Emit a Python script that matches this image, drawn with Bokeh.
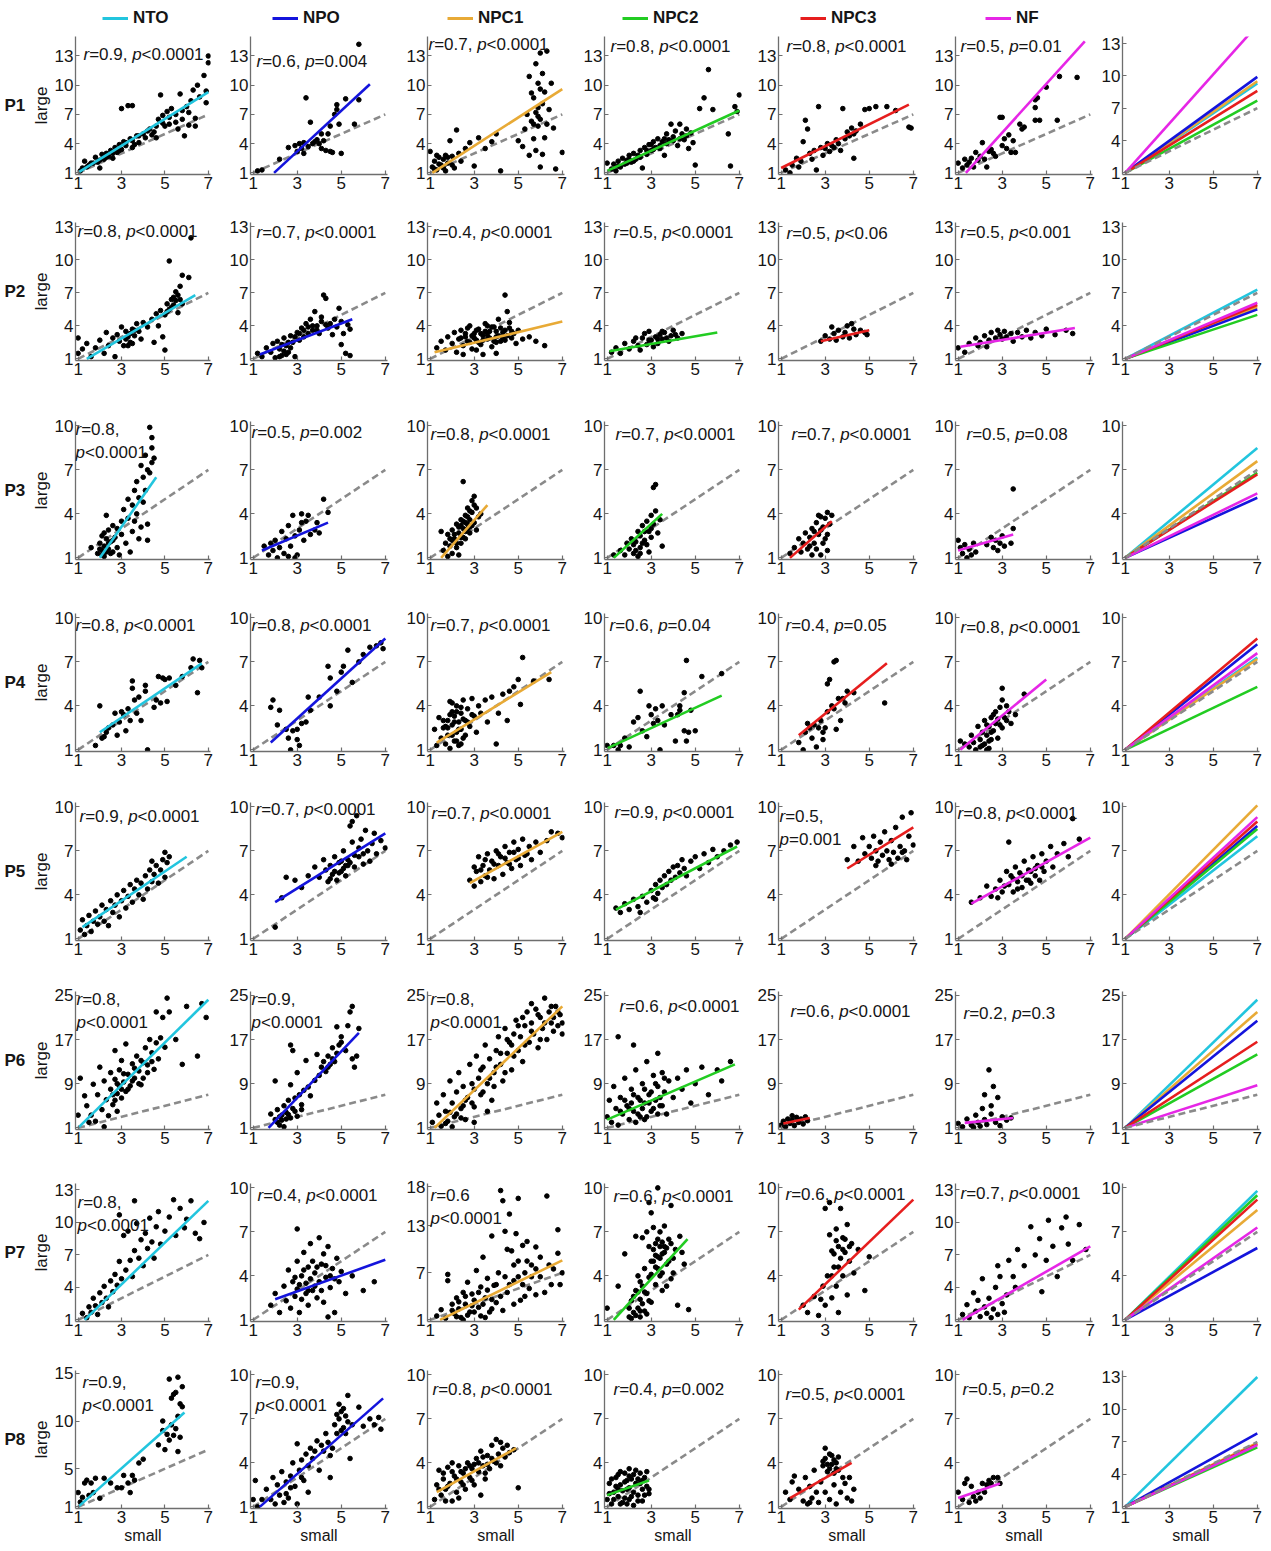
from bokeh.plotting import figure
from bokeh.layouts import gridplot
from bokeh.models import Range1d, FixedTicker, Label, Legend, LegendItem
from bokeh.embed import file_html
from bokeh.resources import INLINE

# ---------------- data ----------------
groups = ["NTO", "NPO", "NPC1", "NPC2", "NPC3", "NF"]
participants = ["P1", "P2", "P3", "P4", "P5", "P6", "P7", "P8"]
x_ticks = [1, 3, 5, 7]
identity = [1, 7]

# scatter points (small, large) per participant and group
p1_nto = [(1.1,1.2),(1.2,1.5),(1.3,2.2),(1.5,1.8),(1.6,2.0),(1.8,2.6),(1.9,2.1),(2.0,1.5),(2.1,2.9),(2.2,2.4),(2.3,3.0),(2.4,2.7),(2.5,3.3),(2.6,2.5),(2.7,3.6),(2.8,3.1),(2.9,3.9),(3.0,3.4),(3.0,7.6),(3.1,4.2),(3.3,7.9),(3.5,7.9),(3.2,3.8),(3.4,4.5),(3.5,3.6),(3.7,4.8),(3.8,4.1),(4.0,5.0),(4.1,4.6),(4.3,5.5),(4.5,5.2),(4.6,4.6),(4.7,6.5),(4.8,9.0),(4.9,6.9),(5.0,5.8),(5.1,7.3),(5.2,6.0),(5.3,7.6),(5.5,7.0),(5.6,5.5),(5.7,9.1),(5.8,6.5),(5.9,4.8),(6.0,7.8),(6.1,5.9),(6.2,8.4),(6.3,9.5),(6.4,6.6),(6.5,10.0),(6.6,8.8),(6.8,11.0),(6.9,8.2),(6.9,9.4),(7.0,12.3),(7.0,13.0),(6.4,5.8),
          (1.4,1.6),(1.7,2.0),(2.0,2.3),(2.3,2.6),(2.6,3.0),(2.9,3.3),(3.2,4.1),(3.5,4.3),(3.8,4.8),(4.2,5.3),(4.6,5.8),(4.9,6.1),(5.2,6.7),(5.5,6.2),(5.8,7.4),(6.1,7.2),(4.4,4.9),(3.6,3.9)]
p1_npo = [(1.2,1.2),(1.4,1.3),(2.2,2.4),(2.6,3.6),(3.0,3.2),(3.1,4.0),(3.2,3.5),(3.3,4.1),(3.4,8.7),(3.5,3.7),(3.6,6.2),(3.7,4.0),(3.8,4.2),(3.9,4.4),(4.0,4.0),(4.1,3.5),(4.1,5.0),(4.2,4.3),(4.3,3.3),(4.4,5.0),(4.5,3.2),(4.5,5.8),(4.6,3.1),(4.7,7.0),(4.8,7.5),(4.8,8.0),(4.9,6.0),(5.0,3.0),(5.2,8.6),(5.6,6.0),(5.8,8.5),(5.8,14.2),(2.9,3.8),(3.3,3.0)]
p1_npc1 = [(1.0,3.2),(1.1,1.6),(1.2,2.2),(1.3,1.3),(1.4,2.6),(1.5,1.8),(1.6,2.4),(1.7,1.2),(1.8,2.0),(1.9,4.3),(2.0,2.7),(2.1,1.5),(2.2,5.4),(2.3,3.0),(2.4,2.2),(2.6,3.5),(2.8,4.1),(3.0,1.7),(3.2,4.6),(3.5,3.5),(3.8,4.2),(4.0,5.0),(4.2,1.2),(5.0,4.3),(5.2,3.7),(5.3,5.5),(5.4,7.0),(5.5,10.9),(5.5,2.8),(5.6,6.3),(5.7,8.7),(5.7,4.5),(5.8,12.2),(5.8,3.3),(5.8,7.2),(5.9,10.2),(5.9,5.8),(6.0,13.3),(6.0,6.5),(6.0,1.6),(6.1,8.1),(6.1,11.2),(6.2,4.6),(6.2,9.3),(6.3,6.0),(6.3,13.5),(6.5,10.2),(6.6,5.6),(6.7,1.4),(7.0,3.1),(6.1,2.9),(5.6,9.2),(5.9,7.7),(6.4,7.5),
           (1.2,1.4),(1.4,1.9),(1.6,1.5),(1.8,2.6),(2.0,1.8),(1.3,2.8),(1.7,2.8),(5.9,6.8),(6.0,9.6),(5.7,6.0)]
p1_npc2 = [(1.0,2.0),(1.2,1.4),(1.3,1.9),(1.4,1.2),(1.5,2.2),(1.6,1.6),(1.7,2.5),(1.8,1.9),(1.9,2.3),(2.0,2.8),(2.1,2.1),(2.2,3.0),(2.3,2.4),(2.4,2.8),(2.5,3.3),(2.6,1.5),(2.7,3.6),(2.8,2.9),(2.9,3.9),(3.0,3.3),(3.1,4.2),(3.2,3.6),(3.3,4.5),(3.4,3.8),(3.5,4.2),(3.6,2.8),(3.7,5.0),(3.8,4.4),(3.9,6.0),(4.0,4.7),(4.1,5.3),(4.2,3.8),(4.3,6.0),(4.4,5.0),(4.5,4.4),(4.6,5.5),(4.7,3.5),(4.8,5.1),(4.9,4.1),(5.0,1.8),(5.2,7.6),(5.4,8.7),(5.6,11.6),(5.8,7.5),(6.5,5.0),(6.6,1.7),(6.8,7.8),(7.0,9.0),(6.9,7.3),
           (1.5,1.7),(1.9,2.0),(2.2,2.2),(2.5,2.6),(2.8,3.3),(3.1,3.4),(3.4,3.5),(3.7,4.0),(4.0,4.3),(4.3,4.5),(4.6,4.8),(2.0,2.4),(3.0,3.9),(3.6,4.5)]
p1_npc3 = [(1.2,1.3),(1.4,1.0),(1.5,1.8),(1.7,2.5),(1.9,2.2),(2.0,4.2),(2.1,6.4),(2.2,5.5),(2.3,3.0),(2.4,2.4),(2.5,3.3),(2.6,1.3),(2.7,7.8),(2.8,3.6),(2.9,2.8),(3.0,3.5),(3.1,4.0),(3.2,3.2),(3.3,3.8),(3.4,3.6),(3.5,4.4),(3.6,4.0),(3.7,3.3),(3.8,7.6),(3.9,4.5),(4.0,5.2),(4.1,4.8),(4.2,5.6),(4.3,2.5),(4.3,5.0),(4.4,5.3),(4.6,6.0),(4.8,7.5),(5.0,7.6),(5.3,7.8),(5.8,7.8),(6.2,7.4),(6.8,5.7),(6.9,5.6),(1.8,1.6)]
p1_nf = [(1.0,2.0),(1.2,1.5),(1.3,2.4),(1.4,1.8),(1.5,2.1),(1.6,2.5),(1.7,1.6),(1.8,3.1),(1.9,2.3),(2.0,2.7),(2.1,4.1),(2.2,2.4),(2.3,1.6),(2.4,3.2),(2.5,3.4),(2.6,3.0),(2.7,2.7),(2.9,6.7),(3.0,6.7),(3.0,3.8),(3.1,4.5),(3.2,3.5),(3.3,4.9),(3.4,3.1),(3.5,4.3),(3.6,3.1),(3.8,6.0),(3.9,5.5),(4.0,5.7),(4.5,7.7),(4.5,8.5),(4.6,8.7),(4.5,6.4),(4.7,6.4),(5.0,9.8),(5.5,6.4),(5.6,10.9),(6.4,10.8)]

p2_nto = [(1.0,2.9),(1.0,1.5),(1.2,1.9),(1.4,2.4),(1.6,1.2),(1.8,2.0),(2.0,2.7),(2.2,1.5),(2.3,3.4),(2.4,2.2),(2.6,2.9),(2.7,1.2),(2.8,3.2),(2.9,2.6),(3.0,3.9),(3.1,2.2),(3.2,3.5),(3.3,3.0),(3.4,2.5),(3.5,3.7),(3.6,3.1),(3.7,4.2),(3.8,3.5),(3.9,2.8),(4.0,4.3),(4.2,3.9),(4.4,4.6),(4.5,2.5),(4.6,5.1),(4.7,4.0),(4.8,5.4),(4.9,3.0),(5.0,5.0),(5.0,1.8),(5.1,6.0),(5.2,5.5),(5.2,9.9),(5.3,6.4),(5.4,5.9),(5.5,7.1),(5.5,6.3),(5.6,5.2),(5.7,7.6),(5.8,8.6),(5.8,6.0),(6.1,8.4),(6.2,12.0),
          (3.2,2.8),(3.4,3.3),(3.5,2.4),(3.6,3.6),(3.3,2.2),(5.3,5.7),(5.6,6.8),(5.4,6.6),(5.1,5.3),(5.7,6.4)]
p2_npo = [(1.2,1.5),(1.4,1.2),(1.6,2.0),(1.8,1.6),(1.9,2.4),(2.0,1.1),(2.1,2.6),(2.2,1.9),(2.3,1.3),(2.4,2.9),(2.5,2.2),(2.6,1.6),(2.7,3.1),(2.8,2.5),(2.9,1.2),(3.0,3.4),(3.1,2.7),(3.2,3.8),(3.3,3.0),(3.4,4.2),(3.5,3.3),(3.6,4.6),(3.7,3.6),(3.8,5.3),(3.9,4.0),(4.0,3.3),(4.1,4.4),(4.2,6.8),(4.3,6.5),(4.4,3.8),(4.5,4.2),(4.6,3.2),(4.7,4.6),(4.8,3.9),(4.9,5.6),(5.0,2.3),(5.0,4.4),(5.1,3.3),(5.2,1.5),(5.3,4.1),(5.4,3.7),(5.4,1.3),
          (2.3,2.3),(2.5,1.4),(2.7,2.0),(2.9,3.0),(3.1,3.3),(3.3,3.6),(3.5,3.9),(3.7,4.0),(3.9,3.6),(4.1,4.8),(4.3,4.1),(2.2,1.2),(2.4,1.7),(2.6,2.5)]
p2_npc1 = [(1.3,2.0),(1.5,2.6),(1.7,1.8),(1.8,3.0),(2.0,2.4),(2.1,3.4),(2.2,1.6),(2.3,2.8),(2.4,3.6),(2.5,2.2),(2.6,3.0),(2.7,2.6),(2.8,4.0),(2.9,1.9),(3.0,3.3),(3.1,2.7),(3.2,3.7),(3.3,2.3),(3.4,3.1),(3.5,4.2),(3.6,2.8),(3.7,3.5),(3.8,2.1),(3.9,3.9),(4.0,3.0),(4.1,4.6),(4.2,2.6),(4.3,3.4),(4.4,6.8),(4.5,5.3),(4.6,3.8),(4.7,2.9),(4.8,3.3),(4.9,2.4),(5.0,3.6),(5.2,2.8),(5.5,3.0),(5.8,2.6),(6.2,2.2),(4.0,1.5),(3.4,1.4),
           (2.4,2.9),(2.6,3.3),(2.8,2.5),(3.0,2.9),(3.1,3.6),(3.3,3.3),(3.4,2.7),(3.5,3.5),(3.6,3.2),(3.7,2.9),(3.8,3.9),(3.9,2.6),(4.0,3.5),(4.1,3.1),(4.2,3.8),(4.3,2.9),(4.4,3.6),(4.5,3.1),(4.6,4.3),(4.7,3.5),(3.2,2.5),(2.9,3.1),(2.7,3.8),(3.6,4.0),(4.0,2.5),(4.4,2.7),(3.1,1.8),(2.5,1.4)]
p2_npc2 = [(1.2,1.6),(1.4,2.0),(1.6,1.5),(1.8,2.4),(2.0,1.9),(2.2,2.6),(2.4,2.2),(2.6,2.9),(2.8,2.3),(3.0,2.7),(3.2,3.0),(3.3,2.4),(3.5,2.8),(3.6,3.4),(3.8,2.6),(3.9,3.1),(4.0,3.6),(4.2,2.9),(4.4,3.3),(2.7,3.3),(3.1,2.1),(2.9,3.5),(3.4,3.2),(2.5,1.8),
           (2.3,2.9),(2.9,2.7),(3.5,3.5),(3.7,2.9),(4.1,3.2),(3.3,2.8)]
p2_npc3 = [(2.8,2.6),(3.0,3.1),(3.2,2.8),(3.4,3.3),(3.5,2.7),(3.6,3.6),(3.8,3.0),(3.9,3.4),(4.0,4.0),(4.1,2.9),(4.3,3.7),(4.4,3.2),(4.6,3.6),(4.8,3.4),(4.9,3.2),(4.2,4.2),(3.3,3.9)]
p2_nf = [(1.0,2.0),(1.3,1.6),(1.5,2.4),(1.8,2.9),(2.0,2.5),(2.2,3.1),(2.4,2.7),(2.5,3.4),(2.7,2.9),(2.8,3.6),(2.9,3.2),(3.0,2.8),(3.1,3.5),(3.2,3.0),(3.4,3.3),(3.5,2.6),(3.7,3.4),(3.9,3.0),(4.1,3.6),(4.3,2.9),(4.5,3.4),(4.8,3.1),(5.0,3.7),(5.4,3.2),(5.9,3.6),(6.2,3.3),(2.3,2.1),(1.9,2.2)]

p3_nto = [(1.6,1.7),(1.9,1.3),(2.0,2.0),(2.1,1.5),(2.1,2.5),(2.2,1.1),(2.2,1.8),(2.3,2.3),(2.3,3.9),(2.4,1.6),(2.4,2.9),(2.5,2.1),(2.6,1.4),(2.6,3.2),(2.7,2.4),(2.8,1.7),(2.8,3.0),(2.9,1.2),(3.0,2.6),(3.0,3.5),(3.1,4.3),(3.2,2.0),(3.3,3.7),(3.3,5.0),(3.4,1.4),(3.5,4.6),(3.5,2.8),(3.6,5.6),(3.6,3.5),(3.7,4.0),(3.7,6.2),(3.8,5.1),(3.8,2.3),(3.9,7.3),(3.9,3.1),(4.0,6.5),(4.0,4.8),(4.1,8.0),(4.1,5.6),(4.2,7.0),(4.2,3.3),(4.3,9.9),(4.3,6.8),(4.4,9.2),(4.4,7.5),(4.4,8.5),(4.5,7.8),(4.2,2.2),
          (2.1,1.2),(2.3,1.4),(2.4,2.0),(2.5,1.3),(2.2,2.7),(2.0,1.6),(2.6,2.2)]
p3_npo = [(1.5,1.8),(1.7,1.2),(1.8,2.0),(1.9,1.5),(2.0,2.2),(2.1,1.0),(2.2,1.7),(2.3,2.8),(2.4,1.3),(2.5,2.3),(2.6,3.2),(2.6,1.1),(2.7,1.8),(2.8,3.9),(2.9,2.5),(3.0,1.2),(3.1,2.9),(3.2,4.0),(3.3,2.2),(3.4,3.5),(3.5,3.9),(3.6,2.6),(3.8,2.9),(3.9,3.4),(4.0,2.7),(4.2,5.0),(4.4,4.1),(2.9,1.0),(3.2,3.4)]
p3_npc1 = [(1.5,2.8),(1.6,1.5),(1.7,2.0),(1.8,2.6),(1.9,1.8),(2.0,2.9),(2.0,1.3),(2.1,2.3),(2.2,3.3),(2.2,1.7),(2.3,2.7),(2.4,3.6),(2.4,2.0),(2.5,3.0),(2.5,2.4),(2.6,3.9),(2.6,2.8),(2.7,3.3),(2.7,4.4),(2.8,3.6),(2.8,2.7),(2.9,4.9),(2.9,4.1),(3.0,3.4),(3.0,5.2),(3.1,4.4),(3.2,3.8),(3.3,4.0),(2.5,6.2),(2.3,1.2),(1.8,1.1),(3.1,2.9),
           (2.1,2.6),(2.3,3.1),(2.4,2.4),(2.5,3.5),(2.6,2.3),(2.7,3.0),(2.8,4.2),(2.9,3.2),(3.0,4.6),(2.2,2.0),(2.0,2.2),(2.6,3.4),(2.8,3.1),(2.4,3.2),(1.9,2.3),(2.7,3.8)]
p3_npc2 = [(1.3,1.2),(1.6,1.5),(1.8,1.2),(1.9,2.0),(2.0,1.6),(2.1,2.3),(2.2,1.3),(2.3,2.1),(2.4,2.8),(2.5,1.7),(2.5,2.5),(2.6,3.2),(2.7,2.2),(2.8,3.5),(2.8,1.9),(2.9,2.8),(3.0,3.9),(3.0,2.4),(3.1,3.3),(3.1,5.8),(3.2,6.0),(3.2,4.2),(3.3,2.7),(3.4,3.6),(3.5,1.8),(2.4,1.1),(2.9,1.4),
           (2.2,1.9),(2.6,2.0),(2.7,2.8),(2.3,1.5),(3.0,3.0),(2.5,1.3)]
p3_npc3 = [(1.4,1.3),(1.6,1.7),(1.8,2.3),(1.9,1.4),(2.0,2.0),(2.1,2.7),(2.2,1.6),(2.3,2.4),(2.4,3.0),(2.4,1.2),(2.5,2.0),(2.6,3.4),(2.6,1.6),(2.7,2.6),(2.8,3.8),(2.8,1.2),(2.9,3.1),(3.0,2.3),(3.0,3.7),(3.1,4.1),(3.2,3.3),(3.3,3.9),(3.1,1.5),(2.7,3.9),
           (2.5,2.8),(2.9,2.0),(2.3,1.8),(2.8,2.9),(3.1,2.6)]
p3_nf = [(1.0,2.2),(1.1,1.7),(1.2,1.3),(1.3,1.9),(1.5,1.6),(1.6,1.2),(1.7,2.0),(1.8,1.4),(2.3,1.9),(2.5,2.4),(2.6,1.7),(2.7,2.2),(2.8,1.5),(2.9,2.0),(3.0,2.5),(3.1,1.8),(3.4,2.0),(3.5,3.0),(3.5,5.7),(1.4,1.0)]

p4_nto = [(1.8,1.3),(2.0,4.0),(2.2,1.9),(2.3,2.2),(2.4,2.5),(2.6,2.7),(2.7,3.5),(2.8,2.0),(2.9,2.9),(3.0,3.6),(3.1,3.4),(3.2,2.3),(3.3,3.8),(3.4,3.0),(3.5,5.7),(3.5,5.2),(3.6,4.4),(3.7,3.5),(3.8,4.6),(3.9,3.0),(4.1,5.0),(4.1,5.4),(4.2,1.0),(4.5,3.9),(4.6,4.4),(4.7,6.0),(4.8,4.2),(4.9,5.9),(5.0,5.8),(5.1,4.3),(5.2,5.9),(5.5,5.4),(5.8,6.0),(6.2,6.6),(6.3,7.2),(6.5,4.9),(6.6,7.1),(6.7,6.6),(2.1,1.8)]
p4_npo = [(1.8,3.9),(1.9,4.4),(2.1,2.7),(2.2,3.7),(2.5,2.4),(2.6,1.8),(2.7,1.0),(2.8,2.3),(3.0,1.7),(3.0,2.4),(3.1,1.3),(3.2,2.8),(3.4,2.9),(3.5,4.6),(3.6,3.7),(4.0,4.6),(4.4,6.7),(4.5,5.9),(4.5,4.0),(4.8,5.0),(5.0,6.3),(5.1,6.7),(5.3,7.8),(5.5,5.6),(5.8,7.0),(6.0,7.5),(6.3,8.0),(6.6,8.1),(6.9,7.9),(6.8,8.3)]
p4_npc1 = [(1.2,2.4),(1.3,1.3),(1.4,3.2),(1.5,1.8),(1.6,2.5),(1.7,1.4),(1.8,3.0),(1.8,2.0),(1.9,4.3),(1.9,1.1),(2.0,2.7),(2.0,3.6),(2.1,1.6),(2.1,3.3),(2.2,2.2),(2.2,4.0),(2.3,2.9),(2.3,1.3),(2.4,3.5),(2.4,2.4),(2.5,4.4),(2.5,1.8),(2.6,3.0),(2.7,3.8),(2.8,2.6),(2.9,4.5),(3.0,3.3),(3.1,2.2),(3.2,4.0),(3.3,3.5),(3.5,4.4),(3.6,2.9),(3.8,4.6),(4.0,1.4),(4.1,3.5),(4.3,4.8),(4.5,3.0),(4.6,5.0),(4.8,5.3),(5.0,5.8),(5.1,4.1),(5.2,7.3),(5.7,5.7),(6.4,5.8),(1.6,3.0),
           (1.7,2.6),(1.9,3.4),(2.0,2.0),(2.1,2.9),(2.2,3.6),(2.3,2.4),(2.4,3.9),(2.5,3.1),(2.6,2.0),(2.7,2.9),(2.2,1.6),(1.8,2.5),(2.4,1.4),(2.9,3.4),(2.0,4.2)]
p4_npc2 = [(1.0,1.3),(1.3,1.3),(1.5,1.0),(1.6,1.3),(1.8,1.8),(2.0,1.2),(2.2,2.9),(2.4,3.2),(2.5,5.0),(2.6,2.3),(2.8,1.9),(2.9,4.0),(3.0,3.4),(3.1,2.8),(3.2,3.8),(3.3,3.0),(3.4,1.0),(3.5,4.0),(3.6,2.7),(3.9,3.4),(4.1,1.6),(4.2,3.4),(4.3,3.7),(4.5,4.9),(4.5,2.3),(4.6,1.6),(4.7,2.2),(4.8,3.7),(5.0,2.3),(5.3,6.0),(6.2,6.2),(4.6,7.1),(4.3,4.0)]
p4_npc3 = [(1.8,1.5),(2.0,1.0),(2.1,2.2),(2.2,2.8),(2.3,2.5),(2.4,1.8),(2.5,2.7),(2.6,1.2),(2.7,2.5),(2.8,3.0),(2.9,2.2),(3.0,2.5),(3.1,3.6),(3.1,5.5),(3.2,5.8),(3.3,4.0),(3.4,3.8),(3.4,7.0),(3.5,7.1),(3.6,4.5),(3.7,3.0),(3.8,4.5),(3.9,4.2),(4.0,5.0),(4.3,4.9),(3.5,2.4),(5.7,4.2),(2.9,1.7)]
p4_nf = [(1.1,1.6),(1.3,1.4),(1.5,1.2),(1.6,2.0),(1.7,1.5),(1.8,1.0),(1.9,2.6),(2.0,1.7),(2.0,1.2),(2.1,2.2),(2.2,1.4),(2.2,3.0),(2.3,2.0),(2.4,2.6),(2.4,1.1),(2.5,3.2),(2.5,1.7),(2.6,2.3),(2.7,3.6),(2.7,2.8),(2.8,3.1),(2.8,1.8),(2.9,3.9),(3.0,2.5),(3.0,4.4),(3.1,3.2),(3.2,4.0),(3.3,3.6),(3.4,2.8),(3.6,3.4),(3.0,5.2),(4.0,4.8),(2.3,1.0),
         (2.1,1.3),(2.3,2.7),(2.5,2.2),(2.6,3.4),(2.9,2.7),(3.2,3.0),(2.4,1.6)]

p5_nto = [(1.1,1.6),(1.2,2.3),(1.3,1.3),(1.4,1.9),(1.5,2.6),(1.6,1.5),(1.7,2.2),(1.8,2.9),(1.9,2.0),(2.0,2.5),(2.1,3.3),(2.2,2.2),(2.3,3.0),(2.4,1.9),(2.5,3.6),(2.6,2.8),(2.7,3.3),(2.8,4.0),(2.9,2.5),(3.0,3.6),(3.1,4.3),(3.2,3.1),(3.3,3.9),(3.4,4.7),(3.5,3.5),(3.6,4.4),(3.7,5.0),(3.8,4.0),(3.9,4.8),(4.0,3.7),(4.1,5.3),(4.2,4.4),(4.3,5.7),(4.4,4.9),(4.5,5.4),(4.6,6.0),(4.7,4.8),(4.8,5.7),(4.9,6.4),(5.0,5.2),(5.1,6.2),(5.2,6.6),(5.0,6.9),(4.4,6.3)]
p5_npo = [(2.0,1.8),(2.5,5.2),(2.9,5.0),(3.2,4.5),(3.5,5.3),(3.8,5.9),(4.0,5.2),(4.2,6.4),(4.3,5.7),(4.4,4.9),(4.5,6.0),(4.6,5.4),(4.7,6.6),(4.8,5.0),(4.9,6.2),(5.0,5.6),(5.1,7.0),(5.2,5.3),(5.3,6.4),(5.4,8.7),(5.5,7.6),(5.6,5.9),(5.7,9.4),(5.8,6.6),(5.9,7.8),(6.0,6.1),(6.1,8.4),(6.2,7.0),(6.3,6.3),(6.4,7.5),(6.5,8.2),(6.6,6.8),(6.8,7.7),(7.0,7.2),(5.5,9.0),(5.3,6.0),(4.9,5.5),(2.3,3.8),
          (4.7,5.6),(5.0,6.3),(5.2,6.0),(5.4,6.2),(5.6,6.7),(5.8,7.2),(6.0,6.8),(4.5,5.1),(5.1,5.8)]
p5_npc1 = [(2.8,5.0),(3.0,4.6),(3.1,5.6),(3.2,6.6),(3.3,4.9),(3.4,6.0),(3.5,5.3),(3.6,6.8),(3.7,5.7),(3.8,6.3),(3.9,5.1),(4.0,7.0),(4.1,6.0),(4.2,6.6),(4.3,5.4),(4.4,7.3),(4.5,6.2),(4.6,6.9),(4.7,5.8),(4.8,7.6),(4.9,6.4),(5.0,7.1),(5.1,6.0),(5.2,7.8),(5.3,6.7),(5.5,7.3),(5.6,6.4),(5.8,7.6),(6.0,6.9),(6.3,7.7),(6.5,8.3),(6.8,8.2),(7.0,7.9),(3.0,5.9),(3.6,5.2),
           (3.3,5.7),(3.5,6.4),(3.9,6.1),(4.1,6.8),(4.4,6.5),(4.6,6.1),(4.8,6.9),(5.0,6.5),(5.4,6.8)]
p5_npc2 = [(1.4,3.1),(1.6,2.8),(1.8,3.4),(2.0,3.0),(2.2,3.7),(2.4,3.2),(2.6,3.9),(2.8,3.5),(3.0,4.3),(3.1,3.8),(3.2,4.7),(3.3,4.1),(3.4,5.0),(3.5,4.5),(3.6,5.3),(3.7,4.7),(3.8,5.6),(3.9,5.0),(4.0,5.9),(4.1,5.2),(4.2,6.0),(4.3,5.5),(4.4,6.4),(4.5,5.8),(4.6,5.3),(4.8,6.3),(5.0,6.6),(5.2,5.8),(5.4,6.8),(5.6,6.2),(5.8,7.1),(6.0,6.6),(6.3,7.0),(6.6,7.4),(6.9,7.6),(3.2,3.7),(2.5,2.8)]
p5_npc3 = [(4.0,6.4),(4.3,7.3),(4.5,6.3),(4.7,7.9),(4.8,6.8),(5.0,7.3),(5.1,6.5),(5.2,8.0),(5.3,7.0),(5.4,6.3),(5.5,7.6),(5.6,6.7),(5.7,8.3),(5.8,7.0),(5.9,6.4),(6.0,7.7),(6.1,6.9),(6.2,8.6),(6.3,6.5),(6.4,7.3),(6.5,9.3),(6.6,7.0),(6.7,6.4),(6.8,8.0),(6.9,9.6),(7.0,7.4),(6.5,6.9),(5.3,6.0),(6.0,6.1)]
p5_nf = [(1.6,3.5),(2.0,3.8),(2.3,4.6),(2.5,3.9),(2.7,4.4),(2.9,5.0),(3.0,4.2),(3.2,5.6),(3.3,4.7),(3.4,5.3),(3.5,4.2),(3.6,5.9),(3.7,4.9),(3.8,5.5),(3.9,4.5),(4.0,6.3),(4.1,5.0),(4.2,5.7),(4.3,4.8),(4.4,6.6),(4.5,5.3),(4.6,6.0),(4.7,5.0),(4.8,6.8),(4.9,5.6),(5.0,6.3),(5.2,7.3),(5.3,5.9),(5.5,6.8),(5.8,7.5),(6.0,6.6),(6.2,9.2),(6.5,7.8),(3.3,7.6),(2.8,3.8),
         (3.1,4.6),(3.5,5.1),(3.9,5.3),(4.2,5.0),(4.5,5.8),(4.8,5.9),(3.7,4.4),(4.3,5.6)]

p6_nto = [(1.0,3.3),(1.1,10.0),(1.3,6.8),(1.4,5.0),(1.5,2.0),(1.6,3.3),(1.7,8.9),(1.8,2.2),(1.9,7.0),(2.0,12.0),(2.1,4.3),(2.2,9.5),(2.3,6.1),(2.4,3.2),(2.5,11.0),(2.5,8.0),(2.6,5.2),(2.7,15.0),(2.7,9.8),(2.8,7.2),(2.8,4.0),(2.9,11.5),(2.9,8.6),(3.0,6.4),(3.0,13.2),(3.1,9.3),(3.2,7.6),(3.2,16.2),(3.3,10.7),(3.4,8.6),(3.5,12.6),(3.6,10.0),(3.7,14.0),(3.8,11.3),(3.9,13.2),(4.0,10.0),(4.1,15.5),(4.2,12.4),(4.3,17.0),(4.4,14.6),(4.5,11.6),(4.6,16.4),(4.7,13.5),(4.8,17.3),(4.9,21.0),(5.0,15.6),(5.1,24.5),(5.2,22.0),(5.5,17.0),(5.8,12.5),(6.0,23.0),(6.5,14.0),(6.7,23.5),(6.9,21.0),(4.6,22.0),(3.9,8.8),(2.2,1.2),
          (2.6,7.0),(2.8,9.0),(3.0,8.0),(3.1,10.8),(3.3,8.0),(3.5,9.5),(3.6,11.8),(3.8,9.0),(4.0,12.8),(4.2,11.0),(4.4,13.0),(2.7,6.0)]
p6_npo = [(1.8,3.5),(2.0,2.5),(2.1,4.3),(2.2,1.5),(2.3,3.3),(2.4,5.0),(2.4,1.2),(2.5,2.6),(2.6,6.0),(2.6,3.4),(2.7,8.8),(2.7,16.0),(2.8,4.5),(2.8,15.0),(2.9,6.4),(3.0,3.1),(3.0,11.0),(3.1,7.0),(3.2,5.2),(3.3,7.8),(3.4,13.2),(3.5,8.4),(3.6,6.8),(3.8,9.6),(3.9,14.3),(4.0,10.5),(4.1,12.0),(4.2,13.0),(4.3,11.2),(4.4,14.0),(4.5,12.5),(4.6,15.5),(4.7,13.0),(4.8,19.3),(4.9,16.0),(5.0,17.5),(5.2,15.0),(5.3,19.5),(5.4,22.0),(5.5,13.5),(5.6,12.0),(5.7,14.0),(5.8,19.0),(5.5,23.0),(2.0,9.5),(3.2,4.3),
          (2.1,2.0),(2.3,2.4),(2.5,3.8),(2.7,2.8),(2.9,4.0),(2.2,3.0),(4.4,12.0),(4.6,13.5),(4.8,14.5),(5.0,16.5)]
p6_npc1 = [(1.1,2.0),(1.3,5.5),(1.4,3.3),(1.5,1.3),(1.6,7.0),(1.7,4.0),(1.8,2.2),(1.9,9.5),(2.0,5.5),(2.1,3.0),(2.2,7.5),(2.3,11.0),(2.4,4.5),(2.5,8.5),(2.6,2.5),(2.7,6.5),(2.8,12.5),(2.9,9.0),(3.0,4.8),(3.1,14.0),(3.2,10.0),(3.3,7.0),(3.4,12.0),(3.5,16.0),(3.6,9.0),(3.7,13.5),(3.8,6.0),(3.9,11.0),(4.0,15.0),(4.1,17.5),(4.2,12.5),(4.3,9.5),(4.4,19.0),(4.5,14.5),(4.6,16.5),(4.7,11.5),(4.8,18.0),(4.9,20.5),(5.0,15.0),(5.1,17.5),(5.2,13.0),(5.3,19.5),(5.4,22.0),(5.5,16.5),(5.6,20.0),(5.7,18.0),(5.8,22.5),(5.9,15.5),(6.0,21.0),(6.1,19.0),(6.2,24.5),(6.3,17.0),(6.4,22.0),(6.5,20.0),(6.6,18.5),(6.7,23.0),(6.8,19.5),(6.9,21.5),(7.0,18.0),(2.0,1.2),(3.0,2.0),(3.6,4.0),
           (2.2,3.5),(2.6,6.0),(3.0,8.0),(3.3,11.5),(3.7,10.0),(4.0,12.0),(4.2,14.5),(4.5,17.0),(4.8,14.0),(5.0,19.5),(5.3,16.0),(5.6,18.5),(5.9,21.5),(6.2,20.0),(6.5,23.0),(6.8,22.0),(1.7,1.8),(2.4,2.8),(2.9,5.5),(3.4,7.5),(3.9,8.5),(4.4,11.0),(4.7,16.0),(5.2,21.0),(5.6,23.5),(6.0,17.0),(6.6,21.0),(7.0,20.0),(1.9,3.8),(2.5,5.0)]
p6_npc2 = [(1.0,3.0),(1.1,6.0),(1.2,2.0),(1.3,8.5),(1.4,4.5),(1.5,1.5),(1.6,6.5),(1.7,3.5),(1.8,10.0),(1.9,5.0),(2.0,2.5),(2.1,8.0),(2.2,4.0),(2.3,11.5),(2.4,6.5),(2.5,3.0),(2.6,9.0),(2.7,5.5),(2.8,13.0),(2.9,7.0),(3.0,4.0),(3.1,10.5),(3.2,6.0),(3.3,8.5),(3.4,5.0),(3.5,11.0),(3.6,7.5),(3.7,3.5),(3.8,9.5),(4.0,6.5),(4.2,10.0),(4.4,8.0),(4.6,11.5),(4.8,5.5),(5.0,9.0),(5.3,12.0),(5.6,7.0),(6.0,11.5),(6.2,9.5),(6.6,13.0),(2.2,16.0),(1.5,17.5),(3.3,14.5),
           (1.6,4.0),(1.8,6.0),(2.0,4.5),(2.2,7.0),(2.4,3.5),(2.5,6.0),(2.6,4.5),(2.7,8.0),(2.8,3.0),(2.9,5.5),(3.0,7.5),(3.1,4.5),(3.2,9.0),(3.3,3.5),(3.4,6.5),(3.5,5.0),(2.3,2.0),(2.7,2.5),(3.6,10.0),(2.1,5.5)]
p6_npc3 = [(1.0,1.5),(1.1,2.2),(1.2,1.2),(1.3,2.6),(1.4,1.8),(1.5,2.4),(1.6,1.4),(1.7,2.9),(1.8,2.0),(1.9,2.6),(2.0,1.7),(2.1,3.0),(2.2,2.3),(1.5,3.2)]
p6_nf = [(1.0,1.8),(1.2,1.2),(1.4,2.6),(1.6,1.5),(1.8,3.3),(1.9,2.0),(2.0,1.3),(2.1,4.5),(2.2,2.5),(2.3,1.6),(2.4,11.5),(2.5,3.5),(2.6,8.5),(2.7,2.0),(2.8,6.5),(2.9,1.4),(3.0,3.0),(3.2,2.4),(3.4,2.8),(2.5,5.0),(2.2,7.0),(1.7,1.1)]

p7_nto = [(1.2,1.6),(1.4,1.2),(1.5,2.2),(1.6,1.7),(1.7,3.0),(1.8,2.3),(1.9,1.5),(2.0,3.5),(2.1,2.6),(2.2,4.1),(2.3,3.0),(2.4,2.2),(2.5,4.6),(2.6,3.6),(2.7,5.2),(2.8,4.2),(2.9,6.4),(3.0,4.8),(3.1,8.8),(3.2,5.6),(3.3,9.2),(3.4,6.5),(3.5,5.0),(3.6,7.4),(3.7,9.9),(3.8,6.7),(3.9,8.4),(4.0,6.0),(4.1,9.0),(4.2,7.6),(4.3,10.4),(4.4,8.2),(4.5,6.7),(4.6,9.6),(4.7,11.0),(4.8,8.0),(5.0,9.2),(5.2,10.5),(5.4,12.1),(5.5,8.8),(5.7,11.3),(5.9,9.5),(6.0,10.3),(6.2,12.0),(6.4,9.0),(6.6,8.5),(6.8,10.0),(3.6,12.0),(2.9,10.7)]
p7_npo = [(1.8,2.0),(2.0,2.8),(2.2,1.5),(2.4,3.3),(2.5,2.3),(2.6,4.4),(2.7,1.8),(2.8,3.6),(2.9,2.6),(3.0,5.0),(3.0,3.1),(3.1,1.5),(3.2,4.0),(3.2,2.4),(3.3,5.6),(3.4,3.5),(3.5,2.0),(3.5,4.6),(3.6,6.2),(3.7,3.0),(3.7,5.0),(3.8,4.2),(3.9,2.5),(4.0,6.6),(4.0,3.6),(4.1,4.8),(4.2,2.2),(4.2,5.5),(4.3,3.9),(4.4,6.0),(4.5,3.2),(4.6,4.5),(4.7,1.5),(4.8,5.2),(4.9,3.6),(5.0,4.3),(5.2,2.8),(5.5,4.0),(6.0,3.0),(6.5,3.6),(3.0,7.2),(4.4,1.2),
          (2.9,3.9),(3.1,3.4),(3.3,4.4),(3.4,2.8),(3.6,3.8),(3.8,3.3),(3.9,4.6),(4.1,3.0),(4.3,4.7),(4.5,4.0),(4.7,3.8),(3.5,3.0)]
p7_npc1 = [(1.3,1.5),(1.5,2.3),(1.7,1.2),(1.8,6.8),(1.8,6.0),(2.0,3.0),(2.1,1.8),(2.2,3.8),(2.3,2.4),(2.4,1.3),(2.5,4.5),(2.6,3.0),(2.7,5.8),(2.8,2.0),(2.9,4.3),(3.0,3.5),(3.1,7.3),(3.2,2.6),(3.3,5.2),(3.4,9.0),(3.5,3.8),(3.6,6.3),(3.7,2.0),(3.8,11.7),(3.9,5.4),(4.0,3.2),(4.1,7.0),(4.2,17.5),(4.3,16.2),(4.4,12.3),(4.5,4.5),(4.6,14.5),(4.7,9.8),(4.8,6.0),(4.9,12.0),(5.0,16.5),(5.0,8.5),(5.1,3.5),(5.2,10.5),(5.3,7.0),(5.4,11.0),(5.5,5.0),(5.6,8.0),(5.8,10.3),(6.0,6.5),(6.2,4.5),(6.3,16.8),(6.6,7.5),(6.8,12.5),(6.9,5.5),(7.0,7.0),(2.5,1.0),(3.5,1.3),
           (2.0,2.2),(2.3,3.3),(2.6,4.0),(2.9,2.8),(3.2,4.5),(3.4,3.0),(3.6,4.8),(3.8,3.6),(4.0,5.5),(4.2,4.0),(4.4,6.5),(4.6,5.5),(4.8,8.0),(5.0,6.5),(5.2,5.5),(5.4,8.5),(5.6,6.5),(5.8,7.5),(6.0,9.0),(6.4,8.0),(2.2,1.4),(2.7,1.6),(3.0,2.0),(3.3,1.5),(3.8,2.4),(4.3,2.2),(4.8,3.0),(5.3,4.0),(5.8,4.2),(6.5,5.5),(6.8,9.5),(4.5,10.0)]
p7_npc2 = [(1.0,1.8),(1.5,3.3),(1.8,5.5),(2.0,1.2),(2.1,2.3),(2.2,1.5),(2.3,3.0),(2.3,6.7),(2.4,1.8),(2.4,4.0),(2.5,2.4),(2.5,1.2),(2.6,3.3),(2.6,6.6),(2.7,1.6),(2.7,4.5),(2.8,2.8),(2.8,7.0),(2.9,3.9),(2.9,6.0),(3.0,5.0),(3.0,8.3),(3.0,2.2),(3.1,5.8),(3.1,7.3),(3.2,4.6),(3.2,6.2),(3.3,5.3),(3.3,10.0),(3.4,4.0),(3.4,6.0),(3.5,5.5),(3.5,3.0),(3.6,7.4),(3.7,4.8),(3.8,6.5),(3.9,3.8),(4.0,5.2),(4.2,2.0),(4.3,6.7),(4.5,4.8),(4.7,1.7),(3.9,8.8),(2.9,9.0),
           (2.0,1.8),(2.2,2.6),(2.3,1.3),(2.4,2.9),(2.5,3.6),(2.6,2.1),(2.7,2.9),(2.8,1.4),(2.9,2.3),(3.0,4.1),(3.1,5.0),(3.2,5.4),(3.2,3.4),(3.3,4.5),(3.3,6.5),(3.4,5.2),(3.4,7.0),(3.5,6.3),(3.5,4.2),(3.6,5.6),(3.6,6.0),(3.7,5.9),(3.7,3.3),(3.8,5.0),(3.9,6.2),(4.0,4.2),(4.1,5.8),(4.4,5.6),(2.5,1.6),(2.1,1.1)]
p7_npc3 = [(2.0,2.0),(2.2,1.5),(2.5,2.6),(2.7,1.3),(2.9,3.3),(3.0,2.0),(3.0,8.6),(3.1,4.0),(3.2,6.8),(3.3,2.5),(3.3,5.7),(3.4,4.6),(3.5,7.2),(3.5,3.3),(3.6,6.0),(3.7,5.2),(3.7,8.6),(3.8,4.0),(3.8,6.6),(3.9,5.6),(4.0,7.5),(4.0,2.7),(4.1,5.0),(4.2,6.2),(4.3,4.2),(4.5,5.8),(4.8,3.0),(5.0,5.3),(3.6,1.5),(3.2,9.0),
           (3.4,5.5),(3.6,4.6),(3.8,5.8),(3.9,6.5),(4.1,6.0),(3.5,6.4),(3.3,4.0),(2.8,2.4)]
p7_nf = [(1.2,1.5),(1.4,2.4),(1.5,1.2),(1.7,3.5),(1.8,1.8),(1.9,2.8),(2.0,1.3),(2.1,4.8),(2.2,2.2),(2.3,1.6),(2.4,3.0),(2.5,1.2),(2.6,2.0),(2.7,4.0),(2.8,1.5),(2.9,5.0),(3.0,2.5),(3.1,1.7),(3.2,3.3),(3.3,6.5),(3.5,5.0),(3.7,7.5),(4.0,6.0),(4.3,9.6),(4.5,7.0),(4.7,8.5),(4.8,3.6),(5.0,6.5),(5.1,10.2),(5.3,7.8),(5.5,5.0),(5.7,9.5),(5.9,10.5),(6.0,8.0),(6.2,6.5),(6.5,9.8),(6.8,7.5),(2.8,6.0),(3.6,4.0)]

p8_nto = [(1.0,2.5),(1.1,1.5),(1.2,2.0),(1.3,3.5),(1.4,3.8),(1.5,2.2),(1.6,3.5),(1.7,2.5),(1.8,4.0),(2.0,1.9),(2.2,4.0),(2.5,3.5),(2.8,3.0),(3.0,3.0),(3.1,4.3),(3.3,3.5),(3.4,2.5),(3.5,4.3),(3.6,3.8),(3.8,5.6),(4.0,6.0),(4.9,10.0),(5.0,7.0),(5.1,8.6),(5.2,14.4),(5.2,8.0),(5.3,9.6),(5.3,12.4),(5.4,12.8),(5.4,8.5),(5.5,13.0),(5.5,9.2),(5.6,14.6),(5.6,10.5),(5.6,6.8),(5.7,11.8),(5.7,8.3),(5.8,13.6),(5.8,11.5),(4.7,7.5),(4.9,9.0)]
p8_npo = [(1.0,1.5),(1.1,2.8),(1.2,1.0),(1.4,1.5),(1.6,2.2),(1.8,1.5),(1.9,3.0),(2.0,1.2),(2.1,2.5),(2.2,1.8),(2.3,3.4),(2.4,1.3),(2.5,2.7),(2.6,1.6),(2.7,3.1),(2.8,4.0),(2.9,2.4),(3.0,5.3),(3.0,1.2),(3.1,3.5),(3.2,4.2),(3.3,2.8),(3.4,4.6),(3.5,3.8),(3.6,5.0),(3.7,4.3),(3.8,4.8),(3.9,5.5),(4.0,3.5),(4.1,5.2),(4.2,4.8),(4.3,6.0),(4.4,5.4),(4.5,4.5),(4.6,5.0),(4.7,6.6),(4.8,6.0),(4.9,8.0),(5.0,7.5),(5.1,6.4),(5.2,7.2),(5.3,8.6),(5.4,4.3),(5.5,6.6),(5.8,7.8),(6.0,6.5),(6.3,7.0),(6.5,6.6),(6.7,7.1),(6.8,6.3),(4.5,3.0),(3.5,2.0),
          (4.9,7.0),(5.0,6.2),(5.1,7.7),(5.2,6.0),(4.8,7.3),(5.3,6.8),(2.5,1.9),(2.7,2.3),(3.2,3.0)]
p8_npc1 = [(1.2,1.5),(1.3,2.5),(1.4,3.5),(1.5,1.8),(1.6,2.9),(1.7,2.2),(1.8,3.7),(1.9,2.6),(2.0,1.4),(2.1,3.1),(2.2,2.0),(2.3,3.8),(2.4,2.7),(2.5,3.3),(2.6,2.2),(2.7,4.0),(2.8,3.0),(2.9,3.6),(3.0,2.5),(3.1,4.3),(3.2,3.4),(3.3,4.8),(3.4,3.8),(3.5,2.9),(3.6,4.5),(3.7,3.6),(3.8,5.2),(3.9,4.1),(4.0,5.6),(4.1,4.6),(4.2,3.8),(4.3,5.0),(4.4,4.4),(4.5,5.2),(4.6,4.7),(4.8,4.9),(5.0,2.3),(3.3,1.8),(2.0,4.0),
           (1.4,2.2),(1.6,3.3),(1.8,2.4),(2.0,3.4),(2.2,2.9),(2.4,3.4),(2.6,3.6),(2.8,3.8),(3.0,3.9),(3.2,4.0),(3.4,4.4),(3.6,3.9),(3.8,4.3),(4.0,4.0),(4.2,5.4),(2.5,2.5),(2.9,2.8),(3.5,3.3),(1.7,1.4),(2.3,1.6)]
p8_npc2 = [(1.0,1.5),(1.1,2.6),(1.2,1.2),(1.3,2.0),(1.4,3.0),(1.5,1.7),(1.6,2.5),(1.7,1.3),(1.8,3.3),(1.9,2.2),(2.0,1.5),(2.1,2.9),(2.2,2.0),(2.3,3.5),(2.4,1.8),(2.5,2.6),(2.6,1.4),(2.7,3.0),(2.8,2.4),(2.9,1.9),(1.6,3.4),(2.2,1.1),
           (1.5,2.2),(1.9,2.8),(2.0,3.1),(2.4,2.9),(2.6,2.2),(1.8,1.6),
           (1.1,1.9),(1.2,2.9),(1.3,1.5),(1.4,2.4),(1.5,3.2),(1.7,2.1),(1.8,2.7),(1.9,1.2),(2.0,2.3),(2.1,1.7),(2.2,3.2),(2.3,2.6),(2.4,1.4),(2.5,3.3),(2.6,2.8),(2.7,1.8),(2.8,3.4),(2.9,2.2),(1.6,1.2),(2.0,3.6)]
p8_npc3 = [(1.2,2.0),(1.4,1.5),(1.5,2.7),(1.6,3.1),(1.8,2.2),(2.0,1.4),(2.1,3.0),(2.2,1.2),(2.3,2.4),(2.4,1.6),(2.5,3.5),(2.6,2.0),(2.7,1.3),(2.8,2.7),(2.9,3.8),(3.0,4.3),(3.0,2.0),(3.1,3.4),(3.2,4.6),(3.2,1.5),(3.3,3.9),(3.4,4.2),(3.4,2.5),(3.5,3.6),(3.5,1.2),(3.6,4.4),(3.7,2.0),(3.8,3.0),(3.9,2.6),(4.0,1.6),(4.1,3.0),(4.2,1.4),(4.3,2.2),(3.0,5.0),
           (3.1,3.9),(3.2,3.6),(3.3,4.5),(3.4,3.3),(2.9,4.1),(3.5,4.0),(3.6,3.5),(2.3,1.3)]
p8_nf = [(1.0,2.0),(1.2,1.5),(1.4,2.9),(1.5,1.3),(1.6,2.4),(1.7,1.7),(1.8,1.4),(1.9,2.0),(2.0,1.6),(2.1,2.6),(2.2,2.0),(2.3,2.5),(2.5,2.6),(2.6,3.0),(2.8,3.0),(2.9,2.6),(1.3,2.6),(2.4,2.8)]

# regression lines (x0, y0, x1, y1) per group
fit_p1 = [(1.05,1.1,7.0,9.3),(1.95,1.0,6.3,10.1),(1.1,1.0,7.0,9.6),(1.0,1.2,7.0,7.4),(1.0,1.5,6.8,8.0),(1.35,1.0,6.75,14.5)]
fit_p2 = [(1.4,1.0,6.4,6.8),(1.3,1.4,5.5,4.6),(1.2,1.6,7.0,4.4),(1.1,1.7,6.0,3.4),(2.8,2.6,5.0,3.6),(1.1,2.1,6.3,3.8)]
fit_p3 = [(2.0,1.0,4.6,6.5),(1.4,1.5,4.4,3.4),(1.5,1.0,3.6,4.6),(1.3,1.0,3.5,4.0),(1.4,1.0,3.3,3.5),(1.0,1.5,3.5,2.6)]
fit_p4 = [(2.0,2.2,6.7,6.9),(1.8,1.5,7.0,8.6),(1.3,1.5,6.5,6.3),(1.0,1.1,6.2,4.7),(1.8,2.0,5.8,6.9),(1.1,1.0,5.0,5.8)]
fit_p5 = [(1.2,1.8,6.0,6.6),(2.0,3.5,7.0,8.2),(2.8,4.8,7.0,8.3),(1.4,3.0,6.9,7.3),(4.0,5.8,7.0,8.6),(1.6,3.4,7.0,7.9)]
fit_p6 = [(1.0,1.0,7.0,24.2),(1.7,1.0,5.8,18.2),(1.2,1.0,7.0,23.0),(1.0,2.5,6.8,12.5),(1.1,1.8,2.3,2.8),(1.3,1.9,3.5,2.8)]
fit_p7 = [(1.3,1.0,7.0,12.0),(2.0,2.4,7.0,5.1),(1.45,1.0,7.0,8.6),(1.3,1.0,4.65,6.5),(1.8,1.7,7.0,9.2),(1.2,1.0,7.0,7.8)]
fit_p8 = [(1.0,1.0,5.9,10.9),(1.3,1.0,6.9,8.4),(1.3,2.0,4.9,5.0),(1.0,1.8,2.9,2.8),(1.4,1.6,4.2,4.0),(1.0,1.6,2.9,2.6)]

# summary column: value of each group's line at small = 7 (lines start at 1,1)
sum_p1 = [9.3, 9.9, 9.5, 7.7, 8.6, 14.7]
sum_p2 = [7.3, 5.5, 5.7, 5.0, 5.9, 6.1]
sum_p3 = [8.5, 5.1, 7.6, 6.8, 6.7, 5.4]
sum_p4 = [7.3, 8.2, 7.2, 5.3, 8.6, 7.6]
sum_p5 = [8.0, 8.7, 10.1, 8.5, 9.0, 9.3]
sum_p6 = [24.2, 20.4, 22.0, 14.3, 16.6, 8.7]
sum_p7 = [9.8, 5.9, 8.5, 9.5, 9.2, 7.3]
sum_p8 = [13.0, 7.8, 6.9, 6.5, 6.8, 6.7]

stats_p1 = ["r=0.9, p<0.0001", "r=0.6, p=0.004", "r=0.7, p<0.0001", "r=0.8, p<0.0001", "r=0.8, p<0.0001", "r=0.5, p=0.01"]
stats_p2 = ["r=0.8, p<0.0001", "r=0.7, p<0.0001", "r=0.4, p<0.0001", "r=0.5, p<0.0001", "r=0.5, p<0.06", "r=0.5, p<0.001"]
stats_p3 = ["r=0.8,\np<0.0001", "r=0.5, p=0.002", "r=0.8, p<0.0001", "r=0.7, p<0.0001", "r=0.7, p<0.0001", "r=0.5, p=0.08"]
stats_p4 = ["r=0.8, p<0.0001", "r=0.8, p<0.0001", "r=0.7, p<0.0001", "r=0.6, p=0.04", "r=0.4, p=0.05", "r=0.8, p<0.0001"]
stats_p5 = ["r=0.9, p<0.0001", "r=0.7, p<0.0001", "r=0.7, p<0.0001", "r=0.9, p<0.0001", "r=0.5,\np=0.001", "r=0.8, p<0.0001"]
stats_p6 = ["r=0.8,\np<0.0001", "r=0.9,\np<0.0001", "r=0.8,\np<0.0001", "r=0.6, p<0.0001", "r=0.6, p<0.0001", "r=0.2, p=0.3"]
stats_p7 = ["r=0.8,\np<0.0001", "r=0.4, p<0.0001", "r=0.6\np<0.0001", "r=0.6, p<0.0001", "r=0.6, p<0.0001", "r=0.7, p<0.0001"]
stats_p8 = ["r=0.9,\np<0.0001", "r=0.9,\np<0.0001", "r=0.8, p<0.0001", "r=0.4, p=0.002", "r=0.5, p<0.0001", "r=0.5, p=0.2"]

ticks_13 = [1, 4, 7, 10, 13]
ticks_10 = [1, 4, 7, 10]
ticks_25 = [1, 9, 17, 25]
ticks_18 = [1, 7, 13, 18]
ticks_15 = [1, 5, 10, 15]

# ---------------- tables built from the data ----------------
scatter = {
    "P1": [p1_nto, p1_npo, p1_npc1, p1_npc2, p1_npc3, p1_nf],
    "P2": [p2_nto, p2_npo, p2_npc1, p2_npc2, p2_npc3, p2_nf],
    "P3": [p3_nto, p3_npo, p3_npc1, p3_npc2, p3_npc3, p3_nf],
    "P4": [p4_nto, p4_npo, p4_npc1, p4_npc2, p4_npc3, p4_nf],
    "P5": [p5_nto, p5_npo, p5_npc1, p5_npc2, p5_npc3, p5_nf],
    "P6": [p6_nto, p6_npo, p6_npc1, p6_npc2, p6_npc3, p6_nf],
    "P7": [p7_nto, p7_npo, p7_npc1, p7_npc2, p7_npc3, p7_nf],
    "P8": [p8_nto, p8_npo, p8_npc1, p8_npc2, p8_npc3, p8_nf],
}
fits = {"P1": fit_p1, "P2": fit_p2, "P3": fit_p3, "P4": fit_p4,
        "P5": fit_p5, "P6": fit_p6, "P7": fit_p7, "P8": fit_p8}
summary = {"P1": sum_p1, "P2": sum_p2, "P3": sum_p3, "P4": sum_p4,
           "P5": sum_p5, "P6": sum_p6, "P7": sum_p7, "P8": sum_p8}
stats = {"P1": stats_p1, "P2": stats_p2, "P3": stats_p3, "P4": stats_p4,
         "P5": stats_p5, "P6": stats_p6, "P7": stats_p7, "P8": stats_p8}
yticks = {
    "P1": [ticks_13] * 7, "P2": [ticks_13] * 7, "P3": [ticks_10] * 7,
    "P4": [ticks_10] * 7, "P5": [ticks_10] * 7, "P6": [ticks_25] * 7,
    "P7": [ticks_13, ticks_10, ticks_18, ticks_10, ticks_10, ticks_13, ticks_10],
    "P8": [ticks_15, ticks_10, ticks_10, ticks_10, ticks_10, ticks_10, ticks_13],
}

# ---------------- layout / style ----------------
COLORS = ["#22c5de", "#1414dc", "#e8aa36", "#22cc22", "#e61e1e", "#e626e6"]
DASH_COLOR = "#8a8a8a"
AXIS_COLOR = "#6e6e6e"
TEXT_COLOR = "#151515"
FONT = "Liberation Sans"

ytop = {
    "P1": [15.0] * 6 + [13.65], "P2": [13.4] * 7, "P3": [10.3] * 7,
    "P4": [10.3] * 7, "P5": [10.3] * 7, "P6": [25.7] * 7,
    "P7": [13.6, 10.3, 18.4, 10.3, 10.3, 13.6, 10.3],
    "P8": [15.3, 10.3, 10.3, 10.3, 10.3, 10.3, 13.6],
}
# annotation offsets (px from frame left, px from frame top to first line centre)
stat_pos = {
    "P1": [(8, 18), (6, 25), (1, 8), (6, 10), (8, 10), (5, 10)],
    "P2": [(2, 9), (6, 10), (5, 10), (9, 10), (8, 11), (5, 10)],
    "P3": [(0, 8), (1, 11), (3, 13), (11, 13), (13, 13), (11, 13)],
    "P4": [(0, 12), (1, 12), (3, 12), (5, 12), (7, 12), (5, 14)],
    "P5": [(4, 14), (5, 7), (4, 11), (10, 10), (1, 14), (2, 11)],
    "P6": [(1, 8), (1, 8), (3, 8), (15, 15), (12, 20), (8, 22)],
    "P7": [(2, 19), (7, 12), (3, 12), (9, 13), (7, 11), (5, 10)],
    "P8": [(7, 12), (5, 12), (5, 19), (9, 19), (7, 24), (7, 19)],
}
# legend sample start, px from each column's frame left
legend_dx = [27, 22, 20, 18, 22, 30]
LINE_GAP = 23
FRAME_W = 137
FRAME_H = 138
LABEL_COL_W = 28
HEADER_H = 30
LEFTS = [45, 35, 35, 35, 32, 37, 27]
RIGHTS = [5, 5, 5, 5, 3, 3, 4]
TOPS = [6, 17, 17, 17, 17, 17, 17, 17]
BOTTOMS = [31, 44, 37, 34, 34, 37, 32, 41]
XR = (0.88, 7.1)

ADV = {"r": 0.333, "p": 0.556, "=": 0.584, "<": 0.584, ".": 0.278, ",": 0.278, " ": 0.278}
FS = 17


def style_axes(p, xt, yt):
    p.xaxis.ticker = FixedTicker(ticks=xt)
    p.yaxis.ticker = FixedTicker(ticks=yt)
    for ax in list(p.xaxis) + list(p.yaxis):
        ax.axis_line_color = AXIS_COLOR
        ax.axis_line_width = 1.3
        ax.major_tick_line_color = AXIS_COLOR
        ax.major_tick_line_width = 1.2
        ax.major_tick_in = 4
        ax.major_tick_out = 0
        ax.minor_tick_in = 0
        ax.minor_tick_out = 0
        ax.major_label_text_font = FONT
        ax.major_label_text_font_size = f"{FS}px"
        ax.major_label_text_color = TEXT_COLOR
        ax.major_label_standoff = 2
        ax.axis_label_text_font = FONT
        ax.axis_label_text_font_style = "normal"
        ax.axis_label_text_color = TEXT_COLOR
        ax.axis_label_standoff = 1


def add_stats(p, text, dx, dy):
    for li, line in enumerate(text.split("\n")):
        runs = []
        for ch in line:
            it = ch in "rp"
            if runs and runs[-1][1] == it:
                runs[-1][0] += ch
            else:
                runs.append([ch, it])
        x = dx
        y = FRAME_H - dy - li * LINE_GAP
        for s, it in runs:
            p.add_layout(Label(x=x, y=y, x_units="screen", y_units="screen", text=s,
                               text_font=FONT, text_font_size=f"{FS}px",
                               text_font_style="italic" if it else "normal",
                               text_color=TEXT_COLOR, text_baseline="middle",
                               text_align="left"))
            x += sum(ADV.get(c, 0.556) for c in s) * FS


def bare_figure(width, height, **kw):
    f = figure(width=width, height=height, x_range=Range1d(0, 1), y_range=Range1d(0, 1),
               x_axis_type=None, y_axis_type=None, output_backend="svg",
               toolbar_location=None, **kw)
    f.outline_line_color = None
    f.grid.visible = False
    return f


# header row with the group legend (the sample line is the group's P1 fit, kept off-view)
header = [None]
for ci in range(7):
    if ci == 6:
        header.append(None)
        continue
    h = bare_figure(LEFTS[ci] + FRAME_W + RIGHTS[ci], HEADER_H,
                    min_border_left=LEFTS[ci], min_border_right=RIGHTS[ci],
                    min_border_top=8, min_border_bottom=0)
    h.y_range = Range1d(100, 101)
    x0, y0, x1, y1 = fits["P1"][ci]
    r = h.line([x0, x1], [y0, y1], line_color=COLORS[ci], line_width=3)
    h.add_layout(Legend(items=[LegendItem(label=groups[ci], renderers=[r])],
                        location=(legend_dx[ci], 2), orientation="horizontal",
                        border_line_color=None, background_fill_alpha=0,
                        label_text_font=FONT, label_text_font_size="17px",
                        label_text_font_style="bold", label_text_color=TEXT_COLOR,
                        glyph_width=26, glyph_height=18, label_standoff=5,
                        label_height=18, padding=0, margin=0, spacing=0))
    header.append(h)

grid = [header]
for ri, pid in enumerate(participants):
    row_h = TOPS[ri] + FRAME_H + BOTTOMS[ri]
    lab = bare_figure(LABEL_COL_W, row_h, min_border=0)
    lab.add_layout(Label(x=4, y=FRAME_H / 2, x_units="screen", y_units="screen",
                         text=pid, text_font=FONT, text_font_size="17px",
                         text_font_style="bold", text_color=TEXT_COLOR,
                         text_baseline="middle", text_align="left"))
    row = [lab]
    for ci in range(7):
        top = ytop[pid][ci]
        yt = yticks[pid][ci]
        ylo = 1 - 0.012 * (top - 1)
        p = figure(width=LEFTS[ci] + FRAME_W + RIGHTS[ci], height=row_h,
                   x_range=Range1d(*XR), y_range=Range1d(ylo, top),
                   output_backend="svg", toolbar_location=None,
                   min_border_left=LEFTS[ci], min_border_right=RIGHTS[ci],
                   min_border_top=TOPS[ri], min_border_bottom=BOTTOMS[ri])
        p.outline_line_color = None
        p.grid.visible = False
        style_axes(p, x_ticks, yt)
        if ci == 0:
            p.yaxis.axis_label = "large"
            p.yaxis.axis_label_text_font_size = "17px"
        if ri == len(participants) - 1:
            p.xaxis.axis_label = "small"
            p.xaxis.axis_label_text_font_size = "16px"
        if ci < 6:
            p.line(identity, identity, line_color=DASH_COLOR, line_width=2.6, line_dash="7 4")
            pts = scatter[pid][ci]
            p.scatter([q[0] for q in pts], [q[1] for q in pts], size=4.6,
                      fill_color="black", line_color="black")
            x0, y0, x1, y1 = fits[pid][ci]
            p.line([x0, x1], [y0, y1], line_color=COLORS[ci], line_width=2.6)
            add_stats(p, stats[pid][ci], *stat_pos[pid][ci])
        else:
            for gi in [0, 2, 1, 3, 4, 5]:
                p.line(identity, [1, summary[pid][gi]], line_color=COLORS[gi], line_width=2.6)
            p.line(identity, identity, line_color=DASH_COLOR, line_width=2.6, line_dash="7 4")
        row.append(p)
    grid.append(row)

layout = gridplot(grid, toolbar_location=None)
open("out.html", "w").write(file_html(layout, INLINE, title="Large vs small"))
